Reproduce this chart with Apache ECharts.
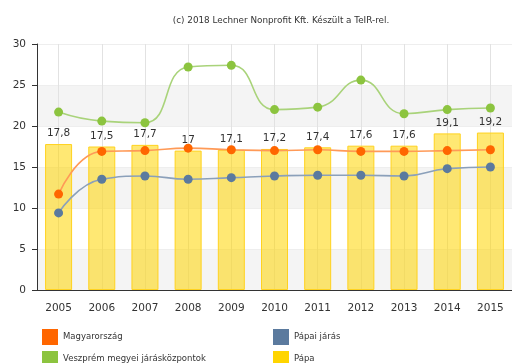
<!DOCTYPE html>
<html>
<head>
<meta charset="utf-8">
<style>
  html, body { margin: 0; padding: 0; background: #fff; }
  #chart { width: 512px; height: 363px; }
</style>
<script src="https://cdn.jsdelivr.net/npm/echarts@6/dist/echarts.min.js"></script>
</head>
<body>
<div id="chart"></div>
<script>
// Years on the horizontal axis
const years = ['2005', '2006', '2007', '2008', '2009', '2010', '2011', '2012', '2013', '2014', '2015'];

// Pápa (bars, labelled)
const papa = [17.8, 17.5, 17.7, 17, 17.1, 17.2, 17.4, 17.6, 17.6, 19.1, 19.2];
// Magyarország
const magyarorszag = [11.7, 16.9, 17.0, 17.3, 17.1, 17.0, 17.1, 16.9, 16.9, 17.0, 17.1];
// Pápai járás
const papaiJaras = [9.4, 13.5, 13.9, 13.5, 13.7, 13.9, 14.0, 14.0, 13.9, 14.8, 15.0];
// Veszprém megyei járásközpontok
const veszprem = [21.7, 20.6, 20.4, 27.2, 27.4, 22.0, 22.3, 25.6, 21.5, 22.0, 22.2];

// Value axis ticks
const yTicks = [0, 5, 10, 15, 20, 25, 30];

const FONT = 'DejaVu Sans';
const comma = v => String(v).replace('.', ',');

function lineSeries(name, data, color, lineColor) {
  return {
    name: name,
    type: 'line',
    data: data,
    smooth: 0.5,
    symbol: 'circle',
    symbolSize: 9,
    itemStyle: { color: color },
    lineStyle: { color: lineColor, width: 1.6 },
    z: 3
  };
}

// One legend entry per block: two columns, two rows, solid swatches
function legendItem(name, color, left, top) {
  return {
    left: left,
    top: top,
    padding: 0,
    itemWidth: 16,
    itemHeight: 16,
    icon: 'rect',
    data: [{ name: name, itemStyle: { color: color, borderWidth: 0 } }],
    textStyle: { fontFamily: FONT, fontSize: 8.5, color: '#333' },
    selectedMode: false
  };
}

const chart = echarts.init(document.getElementById('chart'), null, { renderer: 'canvas' });

chart.setOption({
  animation: false,
  backgroundColor: '#ffffff',
  textStyle: { fontFamily: FONT },
  title: {
    text: '(c) 2018 Lechner Nonprofit Kft. Készült a TeIR-rel.',
    left: 276,
    top: 11,
    textAlign: 'center',
    textStyle: { fontFamily: FONT, fontSize: 8.8, fontWeight: 'normal', color: '#333' }
  },
  legend: [
    legendItem('Magyarország', '#ff6600', 42, 329),
    legendItem('Veszprém megyei járásközpontok', '#8cc43f', 42, 351),
    legendItem('Pápai járás', '#5b7a9e', 273, 329),
    legendItem('Pápa', '#ffd500', 273, 351)
  ],
  grid: { left: 37, top: 44, width: 488, height: 246, containLabel: false },
  xAxis: {
    type: 'category',
    data: years,
    axisLine: { lineStyle: { color: '#333', width: 1 } },
    axisTick: { alignWithLabel: true, length: 5, lineStyle: { color: '#333' } },
    axisLabel: { fontFamily: FONT, fontSize: 10.5, color: '#333', margin: 13 },
    splitLine: { show: false }
  },
  yAxis: {
    type: 'value',
    min: yTicks[0],
    max: yTicks[yTicks.length - 1],
    interval: 5,
    axisLine: { show: true, lineStyle: { color: '#333', width: 1 } },
    axisTick: { show: true, length: 5, lineStyle: { color: '#333' } },
    axisLabel: { fontFamily: FONT, fontSize: 10.5, color: '#333', margin: 11 },
    splitLine: { show: true, lineStyle: { color: '#eeeeee', width: 1 } },
    splitArea: { show: true, areaStyle: { color: ['#f4f4f4', '#ffffff'] } }
  },
  series: [
    {
      name: 'Pápa',
      type: 'bar',
      data: papa,
      barWidth: 27,
      itemStyle: {
        color: 'rgba(255, 213, 0, 0.55)',
        borderColor: '#ffd21f',
        borderWidth: 1
      },
      label: {
        show: true,
        position: 'top',
        distance: 5,
        fontFamily: FONT,
        fontSize: 10.5,
        color: '#333',
        formatter: p => comma(p.value)
      },
      // vertical grid lines through the year ticks, kept beneath the marks
      markLine: {
        silent: true,
        z: 0,
        symbol: 'none',
        label: { show: false },
        lineStyle: { color: '#e2e2e2', width: 1, type: 'solid' },
        data: years.map(y => ({ xAxis: y }))
      },
      z: 2
    },
    lineSeries('Magyarország', magyarorszag, '#ff6600', '#ff9a57'),
    lineSeries('Pápai járás', papaiJaras, '#5b7a9e', '#8ba0ba'),
    lineSeries('Veszprém megyei járásközpontok', veszprem, '#8cc43f', '#a9d37a')
  ],
  color: ['#ffd500', '#ff6600', '#5b7a9e', '#8cc43f']
});
</script>
</body>
</html>
